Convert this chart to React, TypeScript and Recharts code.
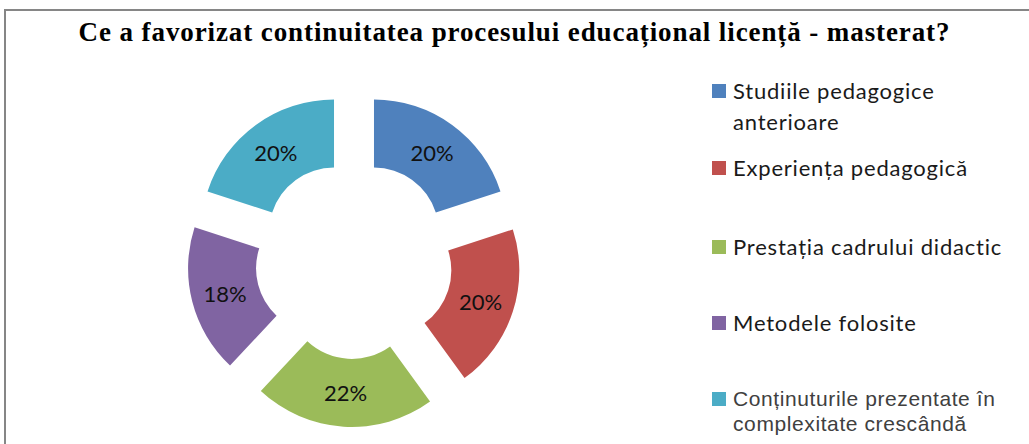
import React from "react";
import { Cell, Legend, Pie, PieChart, Sector } from "recharts";

const categories = [
  "Studiile pedagogice anterioare",
  "Experiența pedagogică",
  "Prestația cadrului didactic",
  "Metodele folosite",
  "Conținuturile prezentate în complexitate crescândă"
];
const shares = [20, 20, 22, 18, 20];
const legendLines = [
  ["Studiile pedagogice", "anterioare"],
  ["Experiența pedagogică"],
  ["Prestația cadrului didactic"],
  ["Metodele folosite"],
  ["Conținuturile prezentate în", "complexitate crescândă"]
];
const colors = ["#4F81BD", "#C0504D", "#9BBB59", "#8064A2", "#4BACC6"];

const TITLE = "Ce a favorizat continuitatea procesului educațional licență - masterat?";
const RAD = Math.PI / 180;
const EXPLODE = 34;

// legend row placement (top of first line, relative to legend box)
const rowTops = [3, 80, 159, 235, 314];
const lato = { fontFamily: "Lato", fontSize: 22, letterSpacing: "0.8px", lineHeight: "31px", color: "#1a1a1a" };
const rowFonts = [
  lato,
  lato,
  lato,
  lato,
  { fontFamily: "Liberation Sans", fontSize: 21, letterSpacing: "0.6px", lineHeight: "25px", color: "#404040" }
];

const data = categories.map((name, i) => ({ name, value: shares[i] }));

function renderSlice(props: any) {
  const { cx, cy, midAngle } = props;
  const dx = EXPLODE * Math.cos(-midAngle * RAD);
  const dy = EXPLODE * Math.sin(-midAngle * RAD);
  return <Sector {...props} cx={cx + dx} cy={cy + dy} />;
}

function renderLabel(props: any) {
  const { cx, cy, midAngle, innerRadius, outerRadius, value } = props;
  const r = (innerRadius + outerRadius) / 2 + EXPLODE;
  const x = cx + r * Math.cos(-midAngle * RAD);
  const y = cy + r * Math.sin(-midAngle * RAD);
  return (
    <text x={x} y={y} textAnchor="middle" dominantBaseline="central" fontFamily="Lato" fontSize={22} fill="#111">
      {value}%
    </text>
  );
}

function renderLegend() {
  return (
    <div style={{ position: "relative", width: "100%", height: "100%" }}>
      {categories.map((name, i) => {
        const font = rowFonts[i];
        const lineH = parseFloat(font.lineHeight);
        return (
          <div key={name} style={{ position: "absolute", left: 0, top: rowTops[i] }}>
            <div
              style={{
                position: "absolute",
                left: 0,
                top: lineH / 2 - 7,
                width: 14,
                height: 14,
                background: colors[i]
              }}
            />
            <div style={{ position: "absolute", left: 21, top: 0, whiteSpace: "nowrap", ...font }}>
              {legendLines[i].map((line, j) => (
                <div key={j}>{line}</div>
              ))}
            </div>
          </div>
        );
      })}
    </div>
  );
}

export default function App() {
  return (
    <div
      style={{
        position: "absolute",
        left: 0,
        top: 0,
        width: 1029,
        height: 444,
        overflow: "hidden",
        background: "#fff"
      }}
    >
      <div
        style={{
          position: "absolute",
          left: 4,
          top: 9,
          width: 1100,
          height: 500,
          border: "2px solid #868686"
        }}
      />
      <div
        style={{
          position: "absolute",
          left: 0,
          top: 17,
          width: 1029,
          textAlign: "center",
          fontFamily: "Liberation Serif",
          fontWeight: "bold",
          fontSize: 27,
          letterSpacing: "0.9px",
          lineHeight: "30px",
          color: "#000"
        }}
      >
        {TITLE}
      </div>
      <div style={{ position: "absolute", left: 0, top: 0 }}>
        <PieChart width={1029} height={444} margin={{ top: 0, right: 0, bottom: 0, left: 0 }}>
          <Pie
            data={data}
            dataKey="value"
            nameKey="name"
            cx={354}
            cy={260}
            innerRadius={65}
            outerRadius={133}
            startAngle={90}
            endAngle={-270}
            stroke="none"
            shape={renderSlice}
            label={renderLabel}
            labelLine={false}
            isAnimationActive={false}
          >
            {data.map((_, i) => (
              <Cell key={i} fill={colors[i]} />
            ))}
          </Pie>
          <Legend
            layout="vertical"
            align="right"
            verticalAlign="top"
            content={renderLegend}
            wrapperStyle={{ left: 712, top: 72, width: 317, height: 372 }}
          />
        </PieChart>
      </div>
    </div>
  );
}
